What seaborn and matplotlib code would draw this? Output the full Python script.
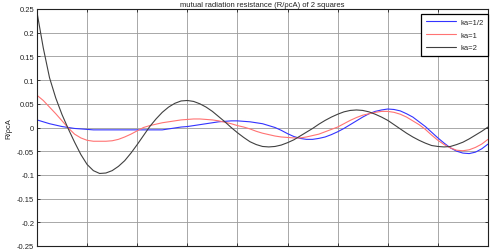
import numpy as np
import pandas as pd
import matplotlib
matplotlib.use("Agg")
import matplotlib.pyplot as plt
import seaborn as sns

# ---- data (x step 0.125) ----
x_vals = [0.0, 0.125, 0.25, 0.375, 0.5, 0.625, 0.75, 0.875,
          1.0, 1.125, 1.25, 1.375, 1.5, 1.625, 1.75, 1.875,
          2.0, 2.125, 2.25, 2.375, 2.5, 2.625, 2.75, 2.875,
          3.0, 3.125, 3.25, 3.375, 3.5, 3.625, 3.75, 3.875,
          4.0, 4.125, 4.25, 4.375, 4.5, 4.625, 4.75, 4.875,
          5.0, 5.125, 5.25, 5.375, 5.5, 5.625, 5.75, 5.875,
          6.0, 6.125, 6.25, 6.375, 6.5, 6.625, 6.75, 6.875,
          7.0, 7.125, 7.25, 7.375, 7.5, 7.625, 7.75, 7.875,
          8.0, 8.125, 8.25, 8.375, 8.5, 8.625, 8.75, 8.875, 9.0]

ka_half = [0.016, 0.012, 0.008, 0.005, 0.002, 0.000, -0.002, -0.003,
           -0.004, -0.005, -0.005, -0.005, -0.005, -0.005, -0.005, -0.005,
           -0.005, -0.005, -0.005, -0.005, -0.005, -0.003, -0.001, 0.001,
           0.002, 0.004, 0.006, 0.008, 0.010, 0.012, 0.013, 0.014,
           0.014, 0.013, 0.012, 0.010, 0.008, 0.004, 0.000, -0.006,
           -0.013, -0.019, -0.023, -0.025, -0.025, -0.023, -0.020, -0.015,
           -0.009, -0.002, 0.006, 0.014, 0.022, 0.029, 0.034, 0.037,
           0.039, 0.038, 0.035, 0.029, 0.022, 0.012, 0.002, -0.010,
           -0.022, -0.033, -0.043, -0.050, -0.054, -0.055, -0.052, -0.045, -0.035]

ka_one = [0.068, 0.057, 0.043, 0.029, 0.014, -0.001, -0.014, -0.022,
          -0.027, -0.029, -0.029, -0.029, -0.028, -0.025, -0.020, -0.014,
          -0.007, 0.000, 0.004, 0.007, 0.010, 0.012, 0.014, 0.016,
          0.017, 0.018, 0.018, 0.017, 0.016, 0.014, 0.011, 0.008,
          0.004, 0.001, -0.003, -0.008, -0.012, -0.015, -0.018, -0.020,
          -0.021, -0.022, -0.022, -0.020, -0.017, -0.014, -0.009, -0.004,
          0.001, 0.008, 0.015, 0.021, 0.026, 0.029, 0.032, 0.034,
          0.034, 0.032, 0.028, 0.022, 0.014, 0.006, -0.004, -0.016,
          -0.027, -0.036, -0.043, -0.048, -0.049, -0.047, -0.042, -0.035, -0.025]

ka_two = [0.243, 0.168, 0.105, 0.062, 0.027, -0.003, -0.031, -0.057,
          -0.078, -0.091, -0.097, -0.096, -0.091, -0.082, -0.070, -0.054,
          -0.036, -0.017, 0.002, 0.018, 0.032, 0.043, 0.051, 0.056,
          0.057, 0.055, 0.050, 0.043, 0.034, 0.023, 0.012, 0.000,
          -0.011, -0.021, -0.030, -0.036, -0.040, -0.041, -0.040, -0.037,
          -0.032, -0.026, -0.018, -0.010, -0.002, 0.007, 0.015, 0.022,
          0.028, 0.033, 0.036, 0.037, 0.036, 0.033, 0.028, 0.022,
          0.015, 0.006, -0.003, -0.012, -0.020, -0.027, -0.033, -0.038,
          -0.040, -0.041, -0.040, -0.036, -0.031, -0.024, -0.016, -0.008, 0.001]

series_names = ["ka=1/2", "ka=1", "ka=2"]
y_ticks = [-0.25, -0.2, -0.15, -0.1, -0.05, 0, 0.05, 0.1, 0.15, 0.2, 0.25]
y_tick_labels = ["-0.25", "-0.2", "-0.15", "-0.1", "-0.05", "0", "0.05", "0.1",
                 "0.15", "0.2", "0.25"]
x_ticks = [0, 1, 2, 3, 4, 5, 6, 7, 8, 9]
title = "mutual radiation resistance (R/ρcA) of 2 squares"
y_label = "R/ρcA"

df = pd.concat([
    pd.DataFrame({"x": x_vals, "y": vals, "series": name})
    for name, vals in zip(series_names, [ka_half, ka_one, ka_two])
], ignore_index=True)

sns.set_theme(style="white")
plt.rcParams["font.family"] = ["Liberation Sans", "DejaVu Sans"]

fig = plt.figure(figsize=(4.93, 2.51), dpi=100)
ax = fig.add_axes([37 / 493, 4 / 251, 451 / 493, 237 / 251])

palette = {"ka=1/2": "#3333ff", "ka=1": "#ff7373", "ka=2": "#404040"}
sns.lineplot(data=df, x="x", y="y", hue="series", hue_order=series_names,
             palette=palette, linewidth=0.8, ax=ax, legend=True)

ax.set_xlim(0, 9)
ax.set_ylim(-0.25, 0.25)
ax.set_xticks(x_ticks)
ax.set_xticklabels([""] * len(x_ticks))
ax.set_yticks(y_ticks)
ax.set_yticklabels(y_tick_labels)
ax.grid(True, color="#9a9a9a", linewidth=0.6)
ax.set_axisbelow(True)
for s in ax.spines.values():
    s.set_color("#222222")
    s.set_linewidth(0.8)
ax.tick_params(axis="both", direction="in", length=2.5, width=0.6,
               top=True, right=True, bottom=True, left=True,
               labelsize=5.5, colors="#222222", pad=2)
ax.set_xlabel("")
ax.set_ylabel(y_label, fontsize=5.5, color="#222222", labelpad=3)
ax.set_title(title, fontsize=5.5, color="#222222", pad=2)

leg = ax.legend(loc="upper right", bbox_to_anchor=(1.0, 1 - 5 / 237),
                fontsize=5.5, frameon=True, fancybox=False,
                edgecolor="black", framealpha=1, handlelength=4.0,
                handletextpad=0.5, borderpad=0.6, labelspacing=0.7,
                borderaxespad=0.0)
leg.get_frame().set_linewidth(0.9)
leg.set_title(None)

fig.savefig("out.png", dpi=100)
